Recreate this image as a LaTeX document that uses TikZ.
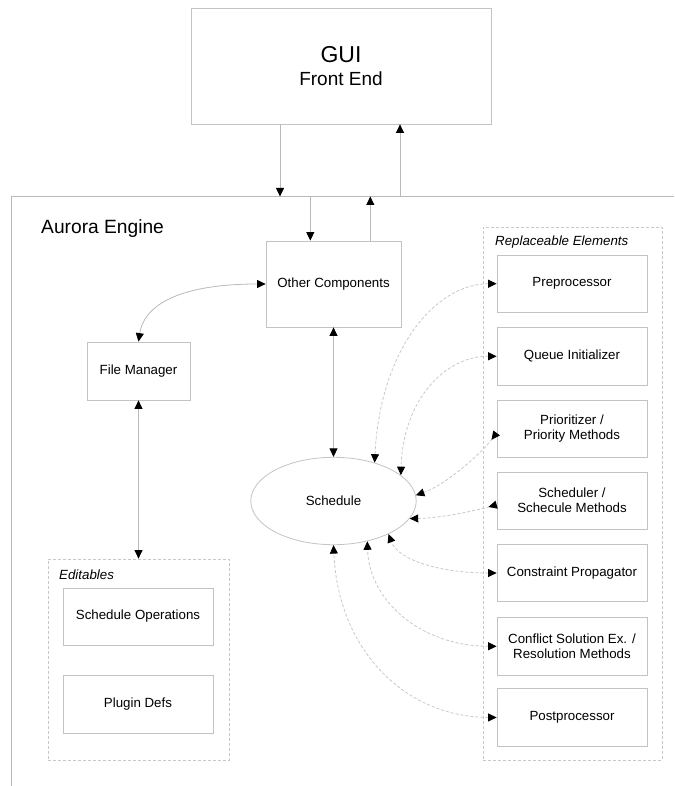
\documentclass[tikz,border=0pt]{standalone}
\usepackage{fontspec}
\setmainfont{Liberation Sans}
\usetikzlibrary{arrows.meta,calc,shapes.geometric}
\definecolor{linegray}{RGB}{185,185,185}
\definecolor{boxgray}{RGB}{195,195,195}
\definecolor{dashgray}{RGB}{200,200,200}
\newcommand\smalltxt{\fontsize{13.3}{15}\selectfont}
\begin{document}
\begin{tikzpicture}[x=1pt,y=-1pt,
  >={Triangle[length=8.5pt,width=8pt,color=black]},
  box/.style={draw=boxgray,line width=0.8pt,rectangle,inner sep=0pt,align=center,font=\smalltxt},
  rbox/.style={box,minimum width=150pt,minimum height=57.5pt},
  cont/.style={draw=dashgray,line width=0.8pt,dash pattern=on 3pt off 2pt,rectangle,inner sep=0pt},
  conn/.style={draw=linegray,line width=0.8pt},
  dconn/.style={draw=dashgray,line width=0.8pt,dash pattern=on 3pt off 2pt},
  lbl/.style={anchor=base west,inner sep=0pt},
]
\useasboundingbox (0,0) rectangle (674,786);

% GUI
\node[box,minimum width=300pt,minimum height=116pt,font=\fontsize{19}{23.3}\selectfont] (gui) at (341,66)
  {{\fontsize{23}{23.3}\selectfont GUI}\\Front End};

% Engine frame
\coordinate (eTL) at (11.5,196.5);
\coordinate (eTR) at (674,196.5);
\coordinate (eBL) at (11.5,786);
\draw[conn] (eTR) -- (eTL) -- (eBL);
\node[lbl,font=\fontsize{19.2}{19.2}\selectfont] (eng) at (41,233.5) {Aurora Engine};

\coordinate (g1) at (280,196.5);
\coordinate (g2) at (400,196.5);
\coordinate (o1) at (310.3,196.5);
\coordinate (o2) at (370.3,196.5);

% Main nodes
\node[box,minimum width=135pt,minimum height=86pt] (oc) at (333.5,284) {Other Components};
\node[box,minimum width=103pt,minimum height=58pt] (fm) at (138.5,371) {File Manager};
\node[draw=boxgray,line width=0.8pt,ellipse,minimum width=165.4pt,minimum height=87.4pt,inner sep=0pt,font=\smalltxt] (sched) at (333.5,501) {Schedule};

% Editables
\node[cont,minimum width=181pt,minimum height=201pt] (edit) at (138.5,659.5) {};
\node[lbl,font=\smalltxt\itshape] (editlbl) at (59,579) {Editables};
\node[box,minimum width=150pt,minimum height=57pt] (so) at (138,616.5) {Schedule Operations};
\node[box,minimum width=150pt,minimum height=58pt] (pd) at (138,704) {Plugin Defs};

% Replaceable elements
\node[cont,minimum width=179pt,minimum height=533pt] (rep) at (572.5,493.5) {};
\node[lbl,font=\smalltxt\itshape] (replbl) at (495,245) {Replaceable Elements};
\node[rbox] (pre) at (572,283.7) {Preprocessor};
\node[rbox] (qi) at (572,356.3) {Queue Initializer};
\node[rbox] (pr) at (572,429) {Prioritizer /\\Priority Methods};
\node[rbox] (sc) at (572,500.7) {Scheduler /\\Schecule Methods};
\node[rbox] (cp) at (572,573) {Constraint Propagator};
\node[rbox] (cf) at (572,646.3) {Conflict Solution Ex. /\\Resolution Methods};
\node[rbox] (pp) at (572,717.5) {Postprocessor};

% Solid connectors
\draw[conn,->] (gui.south -| g1) -- (g1);
\draw[conn,->] (g2) -- (gui.south -| g2);
\draw[conn,->] (o1) -- (oc.north -| o1);
\draw[conn,->] (oc.north -| o2) -- (o2);
\draw[conn,<->] (fm.north) .. controls (145,300) and (190,284) .. (oc.west);
\draw[conn,<->] (oc.south) -- (sched.north);
\draw[conn,<->] (fm.south) -- (edit.north);

% Dashed connectors
\draw[dconn,<->] (pre.west) .. controls (435,284) and (380,350) .. (sched.43);
\draw[dconn,<->] (qi.west) .. controls (445,356) and (403,400) .. (sched.21);
\draw[dconn,{Triangle[length=8.5pt,width=8pt,color=black,reversed]}->] ($(pr.west)+(0,4)$) .. controls (480,455) and (445,485) .. (sched.4);
\draw[dconn,{Triangle[length=8.5pt,width=8pt,color=black,reversed]}->] ($(sc.west)+(0,4)$) .. controls (470,512) and (440,518) .. (sched.-13);
\draw[dconn,<->] (cp.west) .. controls (440,573) and (398,560) .. (sched.-31);
\draw[dconn,<->] (cf.west) .. controls (420,646) and (369,600) .. (sched.-50);
\draw[dconn,<->] (pp.west) .. controls (405,717) and (338,650) .. (sched.south);
\end{tikzpicture}
\end{document}
